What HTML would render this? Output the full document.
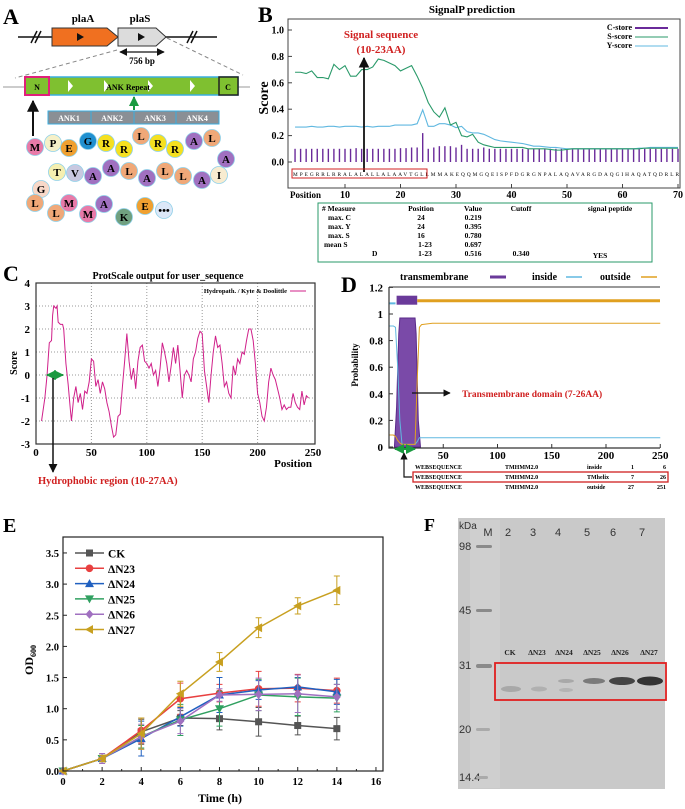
<!DOCTYPE html>
<html><head><meta charset="utf-8"><style>
html,body{margin:0;padding:0;background:#fff}
svg{display:block;font-family:"Liberation Serif",serif}
</style></head><body>
<svg id="fig" width="685" height="809" viewBox="0 0 685 809" xmlns="http://www.w3.org/2000/svg">
<defs>
<marker id="ah" viewBox="0 0 10 10" refX="9" refY="5" markerWidth="6" markerHeight="6" orient="auto-start-reverse"><path d="M0,0L10,5L0,10z" fill="#111"/></marker>
<marker id="ahg" viewBox="0 0 10 10" refX="9" refY="5" markerWidth="5" markerHeight="5" orient="auto-start-reverse"><path d="M0,0L10,5L0,10z" fill="#1a9a40"/></marker>
</defs>

<!-- Panel A -->
<g id="panelA">
<text x="3" y="24" font-size="22" font-weight="bold">A</text>
<line x1="18" y1="37" x2="217" y2="37" stroke="#111" stroke-width="1.5"/>
<path d="M31,43L37,31M35,43L41,31M187,43L193,31M191,43L197,31" stroke="#111" stroke-width="1.5"/>
<path d="M52,28H107L118,37L107,46H52Z" fill="#f07020" stroke="#333"/>
<path d="M118,28H156L166,37L156,46H118L118,28Z" fill="#dcdcdc" stroke="#333"/>
<path d="M77,33L84,37L77,41Z M138,33L145,37L138,41Z" fill="#111"/>
<text x="83" y="22" font-size="11" font-weight="bold" text-anchor="middle">plaA</text>
<text x="140" y="22" font-size="11" font-weight="bold" text-anchor="middle">plaS</text>
<line x1="120" y1="52" x2="164" y2="52" stroke="#111" stroke-width="1.3" marker-start="url(#ah)" marker-end="url(#ah)"/>
<text x="142" y="64" font-size="9" font-weight="bold" text-anchor="middle">756 bp</text>
<path d="M117,50L15,78M167,38L243,75" stroke="#888" stroke-dasharray="4,3" fill="none"/>
<line x1="3" y1="87" x2="250" y2="87" stroke="#999"/>
<rect x="25" y="77" width="213" height="18" fill="#7fc030" stroke="#3aaee0" stroke-width="1.5"/>
<path d="M68,80L73,86L68,92Z M104,80L109,86L104,92Z M148,80L153,86L148,92Z M190,80L195,86L190,92Z" fill="#fff"/>
<rect x="25" y="77" width="24" height="18" fill="#7fc030" stroke="#e0207a" stroke-width="2"/>
<rect x="219" y="77" width="19" height="18" fill="#7fc030" stroke="#222" stroke-width="1.5"/>
<text x="37" y="90" font-size="8" font-weight="bold" text-anchor="middle">N</text>
<text x="228" y="90" font-size="8" font-weight="bold" text-anchor="middle">C</text>
<text x="128" y="90" font-size="8" font-weight="bold" text-anchor="middle">ANK  Repeat</text>
<line x1="134" y1="110" x2="134" y2="97" stroke="#1a9a40" stroke-width="2" marker-end="url(#ahg)"/>
<line x1="33" y1="136" x2="33" y2="101" stroke="#111" stroke-width="2" marker-end="url(#ah)"/>
<g>
<rect x="48" y="111" width="171" height="13" fill="#8a8f95" stroke="#3aaee0"/>
<path d="M91,111V124M134,111V124M176,111V124" stroke="#3aaee0"/>
<g font-size="8" fill="#fff" font-weight="bold" text-anchor="middle"><text x="69" y="121">ANK1</text><text x="112" y="121">ANK2</text><text x="155" y="121">ANK3</text><text x="197" y="121">ANK4</text></g>
</g>
<g id="residues"></g>
</g>

<!-- Panel B -->
<g id="panelB">
<text x="258" y="22" font-size="22" font-weight="bold">B</text>
<text x="472" y="13" font-size="11" font-weight="bold" text-anchor="middle">SignalP prediction</text>
<rect x="288" y="19" width="392" height="169" fill="none" stroke="#444"/>
<g id="bAxes"></g>
<g id="bMarks"></g>
<text transform="translate(268,98) rotate(-90)" font-size="14" font-weight="bold" text-anchor="middle">Score</text>
<g font-size="8" font-weight="bold">
<text x="632" y="30" text-anchor="end">C-store</text><line x1="635" y1="28" x2="668" y2="28" stroke="#6a2a9a" stroke-width="2"/>
<text x="632" y="39" text-anchor="end">S-score</text><line x1="635" y1="37" x2="668" y2="37" stroke="#2a9a6a"/>
<text x="632" y="48" text-anchor="end">Y-score</text><line x1="635" y1="46" x2="668" y2="46" stroke="#60b8e0"/>
</g>
<text x="381" y="38" font-size="11" font-weight="bold" fill="#d02020" text-anchor="middle">Signal sequence</text>
<text x="381" y="53" font-size="11" font-weight="bold" fill="#d02020" text-anchor="middle">(10-23AA)</text>
<line x1="364" y1="172" x2="364" y2="58" stroke="#111" stroke-width="1.8" marker-end="url(#ah)"/>
<text x="293" y="176" font-size="5.3" textLength="386" lengthAdjust="spacing">MPEGRRLRRALALALLALAAVTGLLMMAKEQQMGQEISPFDGRGNPALAQAVARGDAQGIHAQATQDRLR</text>
<rect x="292" y="169" width="135" height="9" fill="none" stroke="#d02020"/>
<text x="290" y="198" font-size="9" font-weight="bold">Position</text>
<g font-size="7.5" font-weight="bold">
<rect x="318" y="203" width="334" height="59" fill="none" stroke="#2a9a6a"/>
<text x="322" y="211">#  Measure</text><text x="421" y="211" text-anchor="middle">Position</text><text x="473" y="211" text-anchor="middle">Value</text><text x="521" y="211" text-anchor="middle">Cutoff</text><text x="610" y="211" text-anchor="middle">signal peptide</text>
<text x="328" y="220">max.   C</text><text x="421" y="220" text-anchor="middle">24</text><text x="473" y="220" text-anchor="middle">0.219</text>
<text x="328" y="229">max.   Y</text><text x="421" y="229" text-anchor="middle">24</text><text x="473" y="229" text-anchor="middle">0.395</text>
<text x="328" y="238">max.   S</text><text x="421" y="238" text-anchor="middle">16</text><text x="473" y="238" text-anchor="middle">0.780</text>
<text x="324" y="247">mean  S</text><text x="425" y="247" text-anchor="middle">1-23</text><text x="473" y="247" text-anchor="middle">0.697</text>
<text x="372" y="256">D</text><text x="425" y="256" text-anchor="middle">1-23</text><text x="473" y="256" text-anchor="middle">0.516</text><text x="521" y="256" text-anchor="middle">0.340</text><text x="600" y="258" text-anchor="middle">YES</text>
</g>
</g>

<!-- Panel C -->
<g id="panelC">
<text x="3" y="281" font-size="22" font-weight="bold">C</text>
<text x="168" y="279" font-size="10" font-weight="bold" text-anchor="middle">ProtScale output for user_sequence</text>
<g id="cAxes"></g>
<g id="cMarks"></g>
<rect x="36" y="283" width="279" height="161" fill="none" stroke="#333" stroke-width="1.2"/>
<text transform="translate(17,363) rotate(-90)" font-size="10" font-weight="bold" text-anchor="middle">Score</text>
<text x="312" y="467" font-size="11" font-weight="bold" text-anchor="end">Position</text>
<text x="287" y="293" font-size="6.5" font-weight="bold" text-anchor="end">Hydropath. / Kyte &amp; Doolittle</text>
<line x1="290" y1="291" x2="306" y2="291" stroke="#d0208a"/>
<line x1="47" y1="375" x2="63" y2="375" stroke="#1a9a40" stroke-width="2" marker-start="url(#ahg)" marker-end="url(#ahg)"/>
<line x1="53" y1="378" x2="53" y2="472" stroke="#111" stroke-width="1.5" marker-end="url(#ah)"/>
<text x="38" y="484" font-size="10.5" font-weight="bold" fill="#d02020">Hydrophobic region (10-27AA)</text>
</g>

<!-- Panel D -->
<g id="panelD">
<text x="341" y="292" font-size="22" font-weight="bold">D</text>
<g font-size="10" font-weight="bold">
<text x="400" y="280">transmembrane</text><line x1="490" y1="277" x2="506" y2="277" stroke="#6a3a9a" stroke-width="3"/>
<text x="532" y="280">inside</text><line x1="566" y1="277" x2="582" y2="277" stroke="#60b8e0" stroke-width="1.5"/>
<text x="600" y="280">outside</text><line x1="641" y1="277" x2="657" y2="277" stroke="#e0a020" stroke-width="1.5"/>
</g>
<g id="dAxes"></g>
<g id="dMarks"></g>
<path d="M389,287V448H660" fill="none" stroke="#333" stroke-width="1.2"/>
<line x1="389" y1="287" x2="660" y2="287" stroke="#333"/>
<text transform="translate(358,365) rotate(-90)" font-size="9" font-weight="bold" text-anchor="middle">Probability</text>
<line x1="412" y1="393" x2="450" y2="393" stroke="#111" stroke-width="1.2" marker-end="url(#ah)"/>
<text x="462" y="397" font-size="9.5" font-weight="bold" fill="#d02020">Transmembrane domain (7-26AA)</text>
<line x1="395" y1="449" x2="415" y2="449" stroke="#1a9a40" stroke-width="2" marker-start="url(#ahg)" marker-end="url(#ahg)"/>
<path d="M412,477H404V453" fill="none" stroke="#111" stroke-width="1.2" marker-end="url(#ah)"/>
<g font-size="6" font-weight="bold">
<text x="415" y="469">WEBSEQUENCE</text><text x="505" y="469">TMHMM2.0</text><text x="587" y="469">inside</text><text x="631" y="469">1</text><text x="666" y="469" text-anchor="end">6</text>
<text x="415" y="479">WEBSEQUENCE</text><text x="505" y="479">TMHMM2.0</text><text x="587" y="479">TMhelix</text><text x="631" y="479">7</text><text x="666" y="479" text-anchor="end">26</text>
<text x="415" y="489">WEBSEQUENCE</text><text x="505" y="489">TMHMM2.0</text><text x="587" y="489">outside</text><text x="628" y="489">27</text><text x="666" y="489" text-anchor="end">251</text>
<rect x="413" y="472" width="255" height="10" fill="none" stroke="#d02020" stroke-width="1.3"/>
</g>
</g>

<!-- Panel E -->
<g id="panelE">
<text x="3" y="532" font-size="20" font-weight="bold">E</text>
<g id="eAxes"></g>
<g id="eMarks"></g>
<rect x="63" y="537" width="320" height="234" fill="none" stroke="#222" stroke-width="1.2"/>
<text transform="translate(33,660) rotate(-90)" font-size="12" font-weight="bold" text-anchor="middle">OD<tspan font-size="8" dy="3">600</tspan></text>
<text x="220" y="802" font-size="12" font-weight="bold" text-anchor="middle">Time (h)</text>
<g id="eLegend"></g>
</g>

<!-- Panel F -->
<g id="panelF">
<text x="424" y="531" font-size="18" font-weight="bold">F</text>
<rect x="458" y="518" width="207" height="271" fill="#c9c9c9"/>
<rect x="470" y="520" width="30" height="268" fill="#cfcfcf"/>
<g font-family="Liberation Sans, sans-serif" font-size="11" fill="#333">
<text x="459" y="529" font-size="10">kDa</text><text x="488" y="536" text-anchor="middle">M</text>
<text x="508" y="536" text-anchor="middle">2</text><text x="533" y="536" text-anchor="middle">3</text><text x="558" y="536" text-anchor="middle">4</text><text x="587" y="536" text-anchor="middle">5</text><text x="613" y="536" text-anchor="middle">6</text><text x="642" y="536" text-anchor="middle">7</text>
<text x="459" y="550">98</text><text x="459" y="614">45</text><text x="459" y="669">31</text><text x="459" y="733">20</text><text x="459" y="781">14.4</text>
</g>
<g fill="#8a8a8a"><rect x="476" y="545" width="16" height="3" rx="1.5"/><rect x="476" y="609" width="16" height="3" rx="1.5"/><rect x="476" y="664" width="16" height="4" rx="2"/><rect x="476" y="728" width="14" height="3" rx="1.5" fill="#aaa"/><rect x="476" y="776" width="12" height="3" rx="1.5" fill="#aaa"/></g>
<g font-size="7.5" font-weight="bold" fill="#222" text-anchor="middle">
<text x="510" y="655">CK</text><text x="537" y="655">ΔN23</text><text x="564" y="655">ΔN24</text><text x="592" y="655">ΔN25</text><text x="620" y="655">ΔN26</text><text x="649" y="655">ΔN27</text></g>
<g>
<ellipse cx="511" cy="689" rx="10" ry="3" fill="#a8a8a8"/><ellipse cx="539" cy="689" rx="8" ry="2.5" fill="#b0b0b0"/>
<ellipse cx="566" cy="681" rx="8" ry="2" fill="#a8a8a8"/><ellipse cx="566" cy="690" rx="7" ry="2" fill="#b4b4b4"/>
<ellipse cx="594" cy="681" rx="11" ry="3" fill="#7a7a7a"/><ellipse cx="622" cy="681" rx="13" ry="4" fill="#444"/><ellipse cx="650" cy="681" rx="13" ry="4.5" fill="#333"/>
</g>
<rect x="495" y="663" width="171" height="37" fill="none" stroke="#e02020" stroke-width="1.8"/>
</g>
</svg>
<script>
const NS="http://www.w3.org/2000/svg";
function mk(parent,tag,attrs,txt){const e=document.createElementNS(NS,tag);for(const k in attrs)e.setAttribute(k,attrs[k]);if(txt!==undefined)e.textContent=txt;parent.appendChild(e);return e;}

/* ---- Panel A residues ---- */
const resLetters=["M","P","E","G","R","R","L","R","R","A","L","A","I","A","L","L","A","L","A","A","V","T","G","L","L","M","M","A","K","E","•••"];
const resX=[35,53,69,88,106,124,141,158,175,194,212,226,219,202,183,165,147,129,111,93,75,57,41,35,56,69,88,104,124,145,164];
const resY=[147,143,148,141,143,149,136,143,149,141,138,159,175,180,176,171,178,171,168,176,173,172,189,203,213,203,214,204,217,206,210];
const resColor={M:"#e87aa8",P:"#f5f0c8",E:"#f0a030",G:"#2090d0",R:"#f5e020",L:"#f0a878",A:"#a070c0",I:"#f8ecd0",T:"#f5efb0",V:"#c8c8e0",K:"#70a080","•••":"#dce8f8"};
const rg=document.getElementById("residues");
resLetters.forEach((l,i)=>{
  let c=resColor[l]; if(l==="G"&&i>20)c="#f8d8c8";
  const ci=mk(rg,"circle",{cx:resX[i],cy:resY[i],r:8.5,fill:c,stroke:"#8fd0e8","stroke-width":0.8});
  
  
  mk(rg,"text",{x:resX[i],y:resY[i]+4,"font-size":11,"font-weight":"bold","text-anchor":"middle"},l);
});

/* ---- Panel B SignalP ---- */
const bPositions=Array.from({length:70},(_,i)=>i+1);
const cScore=[0.1,0.1,0.1,0.1,0.1,0.1,0.1,0.1,0.1,0.1,0.1,0.105,0.1,0.1,0.1,0.1,0.1,0.1,0.1,0.105,0.105,0.11,0.11,0.219,0.1,0.11,0.12,0.12,0.12,0.11,0.13,0.1,0.1,0.1,0.11,0.1,0.1,0.1,0.1,0.1,0.1,0.1,0.1,0.1,0.1,0.1,0.1,0.1,0.1,0.1,0.1,0.1,0.1,0.1,0.1,0.1,0.1,0.1,0.1,0.1,0.1,0.1,0.1,0.1,0.1,0.1,0.1,0.1,0.1,0.1];
const sScore=[0.68,0.68,0.67,0.69,0.64,0.64,0.63,0.74,0.70,0.73,0.65,0.65,0.70,0.70,0.72,0.78,0.77,0.75,0.73,0.69,0.71,0.73,0.65,0.56,0.45,0.38,0.34,0.41,0.28,0.30,0.20,0.19,0.21,0.15,0.13,0.12,0.11,0.11,0.11,0.11,0.11,0.11,0.10,0.10,0.10,0.10,0.095,0.09,0.09,0.095,0.10,0.10,0.10,0.10,0.10,0.10,0.10,0.10,0.10,0.10,0.10,0.10,0.10,0.105,0.105,0.105,0.105,0.105,0.105,0.105];
const yScore=[0.265,0.265,0.265,0.27,0.265,0.265,0.27,0.27,0.265,0.27,0.27,0.27,0.265,0.27,0.265,0.27,0.27,0.27,0.28,0.28,0.28,0.28,0.29,0.395,0.27,0.27,0.29,0.29,0.28,0.26,0.27,0.23,0.22,0.22,0.21,0.19,0.17,0.16,0.155,0.15,0.145,0.14,0.13,0.12,0.12,0.115,0.11,0.11,0.105,0.10,0.10,0.10,0.10,0.10,0.10,0.10,0.10,0.10,0.10,0.10,0.10,0.10,0.105,0.105,0.11,0.11,0.11,0.11,0.11,0.11];
const bYTicks=[0,0.2,0.4,0.6,0.8,1.0];
const bXTicks=[10,20,30,40,50,60,70];
const bx=p=>289.5+p*5.55, by=v=>162-v*132;
(function(){
  const ax=document.getElementById("bAxes"), mg=document.getElementById("bMarks");
  bYTicks.forEach(t=>{mk(ax,"line",{x1:288,x2:292,y1:by(t),y2:by(t),stroke:"#444"});mk(ax,"text",{x:284,y:by(t)+3.5,"font-size":10,"font-weight":"bold","text-anchor":"end"},t.toFixed(1));});
  bXTicks.forEach(t=>{mk(ax,"line",{x1:bx(t),x2:bx(t),y1:188,y2:184,stroke:"#444"});mk(ax,"text",{x:bx(t),y:198,"font-size":10,"font-weight":"bold","text-anchor":"middle"},t);});
  bPositions.forEach((p,i)=>{const b=mk(mg,"line",{x1:bx(p),x2:bx(p),y1:by(0),y2:by(cScore[i]),stroke:"#6a2a9a","stroke-width":1.4});
    
    });
  const line=(arr,col,name)=>{const l=mk(mg,"polyline",{points:arr.map((v,i)=>bx(bPositions[i])+","+by(v)).join(" "),fill:"none",stroke:col,"stroke-width":1.1});
    
    };
  line(yScore,"#60b8e0","y-score-line");
  line(sScore,"#2a9a6a","s-score-line");
})();

/* ---- Panel C ProtScale ---- */
const cPos=[5,8,10,12,14,15,16,18,19,20,22,24,25,27,29,31,32,34,36,38,40,42,44,46,48,50,52,54,56,58,60,62,64,66,68,70,72,74,76,78,80,82,84,86,88,90,92,94,96,98,100,102,104,106,108,110,112,114,116,118,120,122,124,126,128,130,132,134,136,138,140,142,144,146,148,150,152,154,156,158,160,162,164,166,168,170,172,174,176,178,180,182,184,186,188,190,192,194,196,198,200,202,204,206,208,210,212,214,216,218,220,222,224,226,228,230,232,234,236,238,240,242,244,246];
const cVal=[-2,-1,0,1.4,1.5,2.6,3.0,2.9,3.0,2.3,2.2,2.2,2.0,0.5,-0.4,-1.5,-2.0,-1.0,-0.5,-1.2,-0.8,-1.5,-0.7,-0.8,-0.3,0.7,0.6,-0.5,-0.2,-0.8,-0.3,-0.6,-1.2,-1.6,-2.2,-2.7,-2.6,-1.8,-1.7,-0.5,0.6,1.8,0.6,-0.2,0.3,-0.6,0.6,1.2,1.3,0.6,0.5,0.3,0.5,0,0.2,-0.5,0.3,1.4,1.0,0.5,-0.3,0.4,1.2,0.5,1.3,0.2,-1.0,0,0.2,0,-0.3,0.7,1.0,1.6,1.9,1.8,0.2,-0.5,-1.2,0,1.0,1.7,1.2,1.3,0.5,-0.5,-0.3,-0.8,-1.0,0.4,0,0.7,0.5,1.0,0.9,1.5,2.0,2.0,1.5,0.5,-0.8,-1.2,-1.8,-2.0,-1.4,-0.3,0.3,0,-0.2,-0.6,-1.0,-1.5,-1.3,-1.5,-1.4,-1.4,-0.8,-1.2,-1.4,-1.5,-0.7,-1.3,-0.9,-1.0];
const cYTicks=[-3,-2,-1,0,1,2,3,4];
const cXTicks=[0,50,100,150,200,250];
const cx=p=>36+p*1.108, cy=v=>375-v*23;
(function(){
  const ax=document.getElementById("cAxes"), mg=document.getElementById("cMarks");
  cYTicks.forEach(t=>{if(t>-3&&t<4)mk(ax,"line",{x1:36,x2:315,y1:cy(t),y2:cy(t),stroke:"#999","stroke-dasharray":"1,2"});mk(ax,"text",{x:30,y:cy(t)+4,"font-size":11,"font-weight":"bold","text-anchor":"end"},t);});
  cXTicks.forEach(t=>{if(t>0&&t<250)mk(ax,"line",{x1:cx(t),x2:cx(t),y1:283,y2:444,stroke:"#999","stroke-dasharray":"1,2"});mk(ax,"text",{x:cx(t),y:456,"font-size":11,"font-weight":"bold","text-anchor":"middle"},t);});
  const l=mk(mg,"polyline",{points:cPos.map((p,i)=>cx(p)+","+cy(cVal[i])).join(" "),fill:"none",stroke:"#d0208a","stroke-width":1});
  
  
})();

/* ---- Panel D TMHMM ---- */
const dPos=[0,4,6,8,10,12,24,26,28,30,40,100,150,200,250];
const insideP=[0.91,0.91,0.90,0.60,0.20,0.02,0.02,0.04,0.07,0.07,0.07,0.07,0.07,0.07,0.07];
const outsideP=[0.09,0.09,0.08,0.05,0.03,0.02,0.02,0.50,0.90,0.92,0.93,0.93,0.93,0.93,0.93];
const tmPos=[5,7,9,10,24,25,27,29];
const tmP=[0,0.3,0.85,0.97,0.97,0.85,0.2,0];
const dYTicks=[0,0.2,0.4,0.6,0.8,1,1.2];
const dXTicks=[50,100,150,200,250];
const dx=p=>389+p*1.085, dy=v=>447-v*133;
(function(){
  const ax=document.getElementById("dAxes"), mg=document.getElementById("dMarks");
  dYTicks.forEach(t=>{mk(ax,"line",{x1:389,x2:393,y1:dy(t),y2:dy(t),stroke:"#333"});mk(ax,"text",{x:383,y:dy(t)+4,"font-size":11,"font-weight":"bold","text-anchor":"end"},String(t));});
  dXTicks.forEach(t=>{mk(ax,"line",{x1:dx(t),x2:dx(t),y1:448,y2:444,stroke:"#333"});mk(ax,"text",{x:dx(t),y:459,"font-size":11,"font-weight":"bold","text-anchor":"middle"},t);});
  const tm=mk(mg,"polygon",{points:tmPos.map((p,i)=>dx(p)+","+dy(tmP[i])).join(" "),fill:"#7a4aa8",stroke:"#5a2a8a"});
  
  
  const l1=mk(mg,"polyline",{points:dPos.map((p,i)=>dx(p)+","+dy(insideP[i])).join(" "),fill:"none",stroke:"#60b8e0","stroke-width":1});
  
  
  const l2=mk(mg,"polyline",{points:dPos.map((p,i)=>dx(p)+","+dy(outsideP[i])).join(" "),fill:"none",stroke:"#e0a020","stroke-width":1});
  
  
  mk(mg,"line",{x1:dx(0),x2:dx(6),y1:dy(1.08),y2:dy(1.08),stroke:"#60b8e0","stroke-width":2});
  const tb=mk(mg,"rect",{x:dx(7),y:dy(1.1)-5,width:dx(26)-dx(7),height:9,fill:"#6a3a9a"});
  
  
  mk(mg,"line",{x1:dx(26),x2:660,y1:dy(1.1),y2:dy(1.1),stroke:"#e0a020","stroke-width":3});
})();

/* ---- Panel E growth curves ---- */
const times=[0,2,4,6,8,10,12,14];
const seriesNames=["CK","ΔN23","ΔN24","ΔN25","ΔN26","ΔN27"];
const ckVals=[0,0.2,0.63,0.85,0.84,0.79,0.73,0.68];
const n23Vals=[0,0.2,0.65,1.16,1.25,1.32,1.33,1.29];
const n24Vals=[0,0.2,0.52,0.87,1.22,1.30,1.35,1.27];
const n25Vals=[0,0.2,0.55,0.82,1.00,1.22,1.19,1.17];
const n26Vals=[0,0.2,0.55,0.80,1.22,1.23,1.24,1.19];
const n27Vals=[0,0.2,0.60,1.24,1.75,2.30,2.65,2.90];
const ckErr=[0,0.05,0.2,0.12,0.18,0.23,0.15,0.18];
const n23Err=[0,0.05,0.2,0.25,0.14,0.28,0.22,0.2];
const n24Err=[0,0.05,0.28,0.15,0.28,0.15,0.15,0.2];
const n25Err=[0,0.05,0.18,0.25,0.28,0.25,0.3,0.22];
const n26Err=[0,0.08,0.2,0.2,0.1,0.26,0.3,0.2];
const n27Err=[0,0.05,0.25,0.2,0.15,0.16,0.13,0.23];
const eYTicks=[0,0.5,1.0,1.5,2.0,2.5,3.0,3.5];
const eXTicks=[0,2,4,6,8,10,12,14,16];
const ex=t=>63+t*19.56, ey=v=>771-v*62.3;
(function(){
  const ax=document.getElementById("eAxes"), mg=document.getElementById("eMarks"), lg=document.getElementById("eLegend");
  eYTicks.forEach(t=>{mk(ax,"line",{x1:63,x2:67,y1:ey(t),y2:ey(t),stroke:"#222"});mk(ax,"text",{x:59,y:ey(t)+4,"font-size":10.5,"font-weight":"bold","text-anchor":"end"},t.toFixed(1));});
  eXTicks.forEach(t=>{mk(ax,"line",{x1:ex(t),x2:ex(t),y1:771,y2:767,stroke:"#222"});if(t<16)mk(ax,"line",{x1:ex(t+1),x2:ex(t+1),y1:771,y2:769,stroke:"#222"});mk(ax,"text",{x:ex(t),y:785,"font-size":10.5,"font-weight":"bold","text-anchor":"middle"},t);});
  const vals=[ckVals,n23Vals,n24Vals,n25Vals,n26Vals,n27Vals];
  const errs=[ckErr,n23Err,n24Err,n25Err,n26Err,n27Err];
  const cols=["#555555","#e84040","#2060c0","#30a060","#a070c0","#c8a020"];
  const marker=(g,x,y,k,c)=>{
    if(k===0)return mk(g,"rect",{x:x-3.5,y:y-3.5,width:7,height:7,fill:c});
    if(k===1)return mk(g,"circle",{cx:x,cy:y,r:3.8,fill:c});
    if(k===2)return mk(g,"polygon",{points:`${x},${y-4.5} ${x-4.5},${y+3.5} ${x+4.5},${y+3.5}`,fill:c});
    if(k===3)return mk(g,"polygon",{points:`${x},${y+4.5} ${x-4.5},${y-3.5} ${x+4.5},${y-3.5}`,fill:c});
    if(k===4)return mk(g,"polygon",{points:`${x},${y-4.5} ${x+4},${y} ${x},${y+4.5} ${x-4},${y}`,fill:c});
    return mk(g,"polygon",{points:`${x-4.5},${y} ${x+3.5},${y-4.5} ${x+3.5},${y+4.5}`,fill:c});
  };
  vals.forEach((arr,k)=>{
    const g=mk(mg,"g",{});
    
    
    arr.forEach((v,i)=>{if(errs[k][i]>0){const x=ex(times[i]);mk(g,"path",{d:`M${x},${ey(v-errs[k][i])}V${ey(v+errs[k][i])}M${x-3},${ey(v-errs[k][i])}h6M${x-3},${ey(v+errs[k][i])}h6`,stroke:cols[k],"stroke-width":1,fill:"none"});}});
    const l=mk(g,"polyline",{points:arr.map((v,i)=>ex(times[i])+","+ey(v)).join(" "),fill:"none",stroke:cols[k],"stroke-width":1.5});
    
    
    arr.forEach((v,i)=>{const m=marker(g,ex(times[i]),ey(v),k,cols[k]);
      
      });
    const ly=553+k*15.3;
    const le=mk(lg,"g",{});
    
    
    mk(le,"line",{x1:75,x2:104,y1:ly,y2:ly,stroke:cols[k],"stroke-width":1.5});
    marker(le,89.5,ly,k,cols[k]);
    mk(le,"text",{x:108,y:ly+4.5,"font-size":11.5,"font-weight":"bold"},seriesNames[k]);
  });
})();
</script>
</body></html>
